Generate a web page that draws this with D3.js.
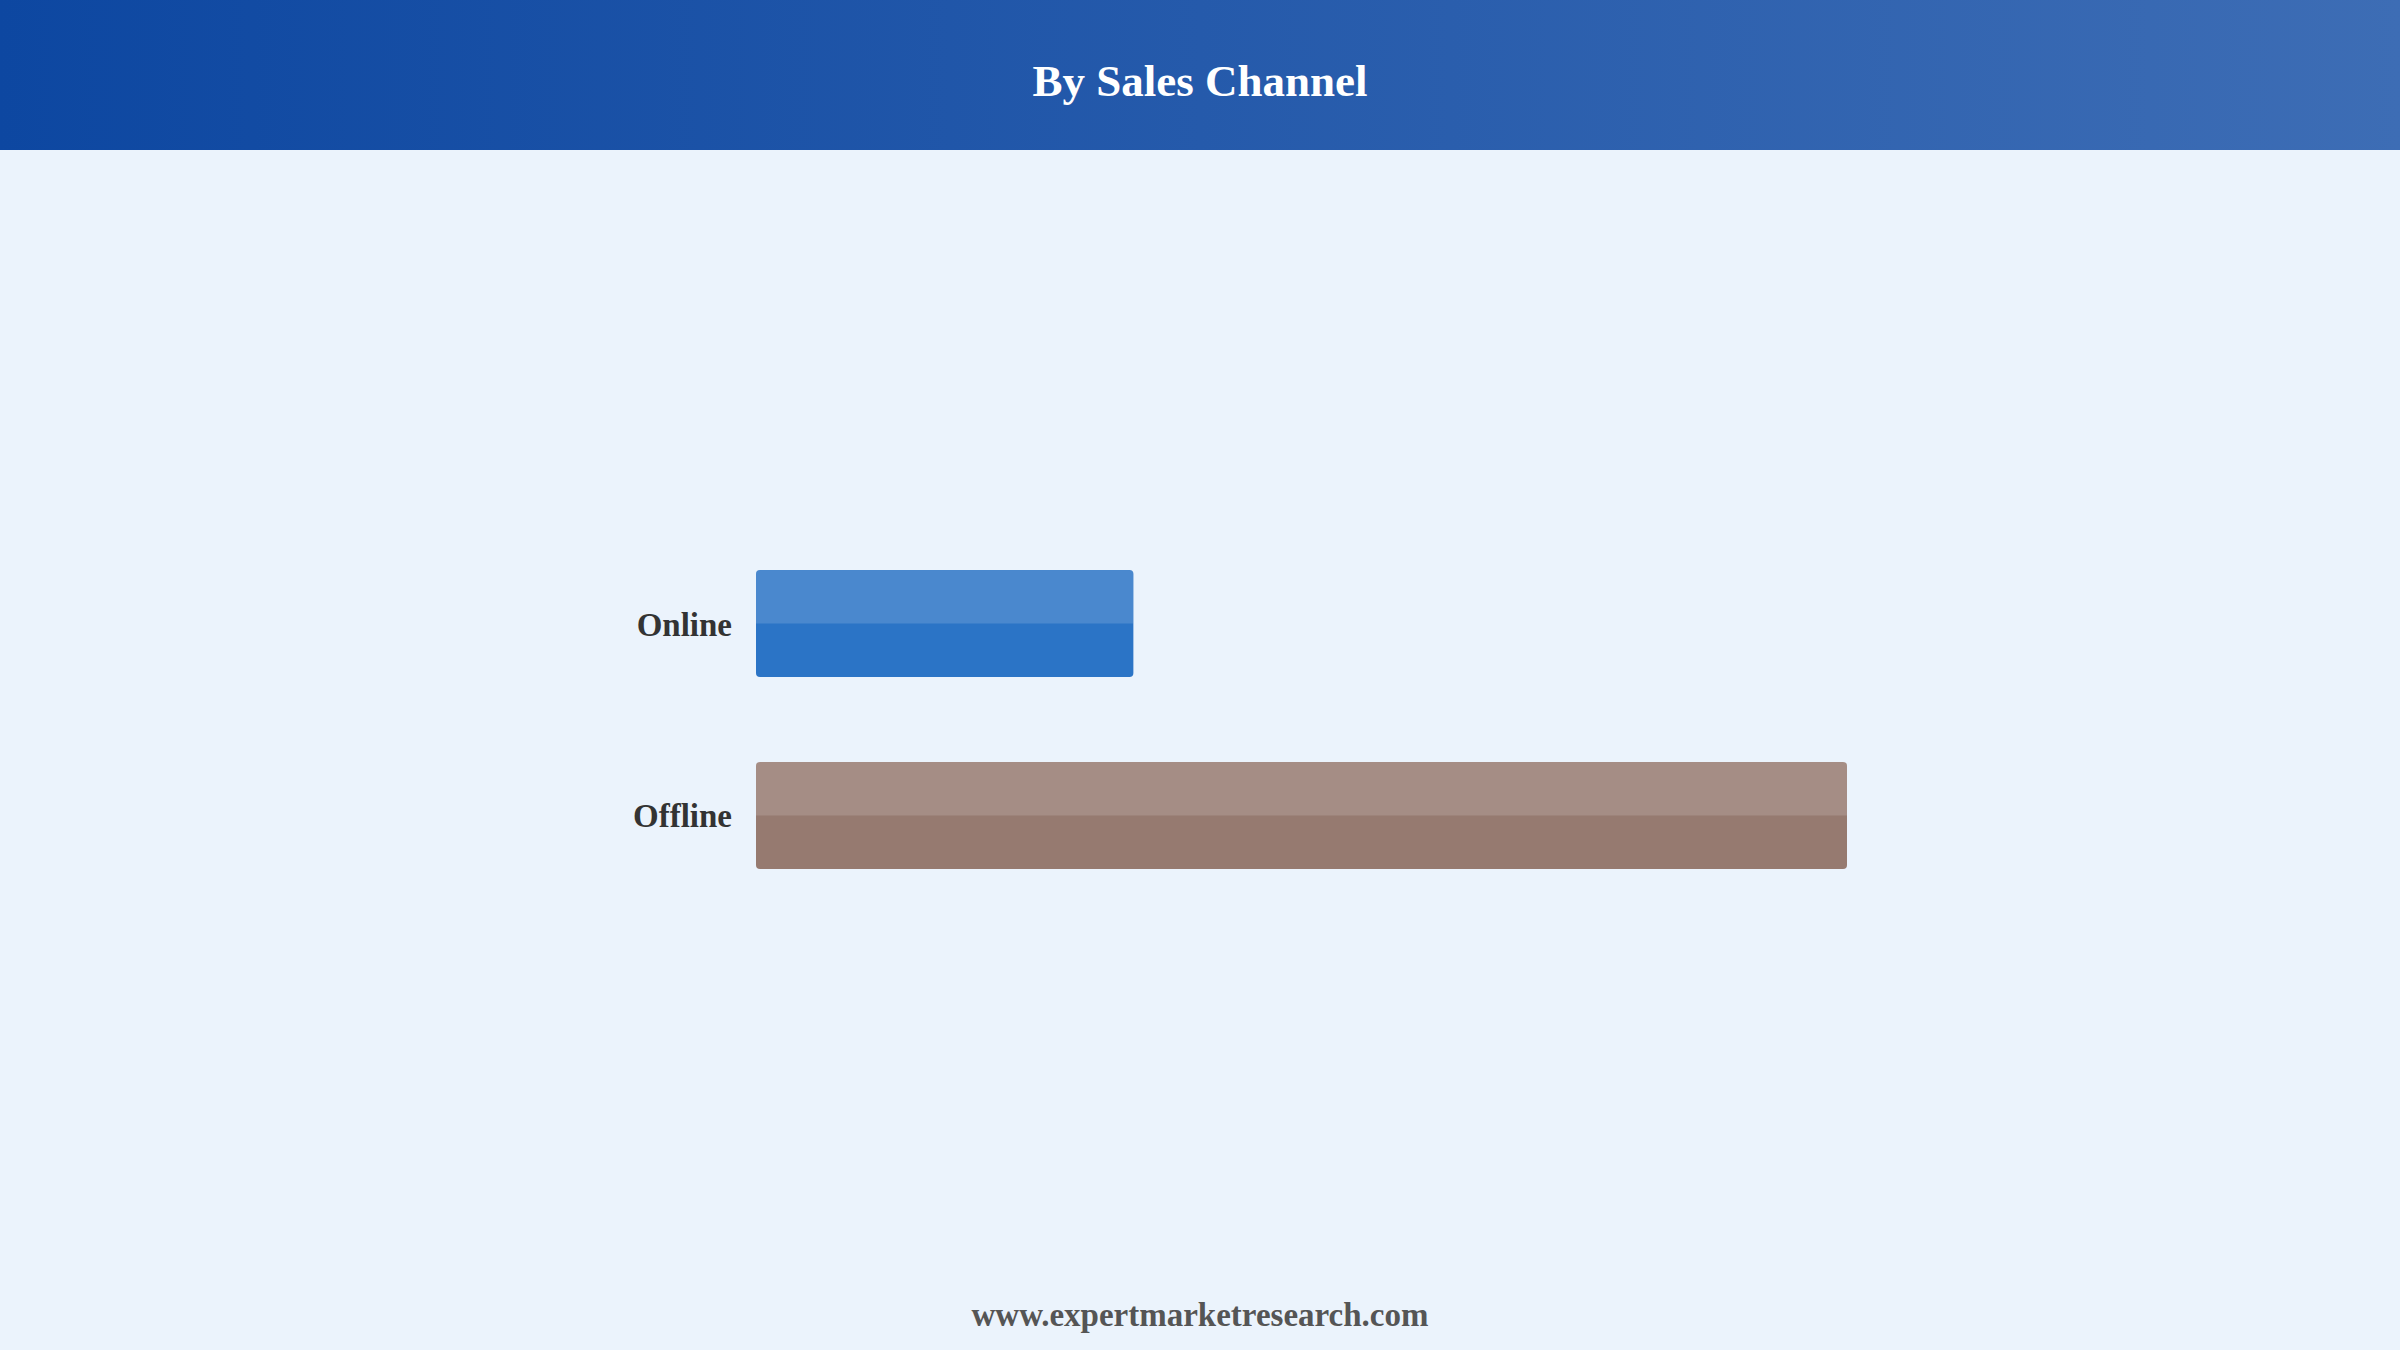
<!DOCTYPE html>
<html>
<head>
<meta charset="utf-8">
<script src="https://cdn.jsdelivr.net/npm/d3@7"></script>
<style>
  html, body { margin: 0; padding: 0; background: #EBF3FC; }
  svg { display: block; }
</style>
</head>
<body>
<svg id="chart" width="2400" height="1350"></svg>
<script>
const categories = ["Online", "Offline"];
const values = [25.7, 74.3];
const barColors = ["#2B74C6", "#967A70"];
const titleText = "By Sales Channel";
const footerText = "www.expertmarketresearch.com";

const W = 2400, H = 1350;
const svg = d3.select("#chart");
const defs = svg.append("defs");

const grad = defs.append("linearGradient").attr("id", "hdr").attr("x1", "0%").attr("x2", "100%");
grad.append("stop").attr("offset", "0%").attr("stop-color", "#0D47A1");
grad.append("stop").attr("offset", "100%").attr("stop-color", "#3D6DB5");

const clip = defs.selectAll("clipPath").data(categories).join("clipPath")
  .attr("id", (d, i) => "clip" + i);

svg.append("rect").attr("width", W).attr("height", H).attr("fill", "#EBF3FC");
svg.append("rect").attr("width", W).attr("height", 150).attr("fill", "url(#hdr)");

svg.append("text")
  .attr("x", W / 2).attr("y", 96)
  .attr("text-anchor", "middle")
  .attr("font-family", "'Liberation Serif', 'Times New Roman', serif")
  .attr("font-weight", "bold")
  .attr("font-size", 45)
  .attr("fill", "#FFFFFF")
  .text(titleText);

const x = d3.scaleLinear().domain([0, d3.max(values)]).range([756, 1847]);
const y = d3.scaleBand().domain(categories).range([527.5, 911.5]).paddingInner(0.4427).paddingOuter(0.2214);

const g = svg.append("g");
const bars = g.selectAll("g.bar").data(categories).join("g").attr("class", "bar");

clip.append("rect")
  .attr("x", x(0))
  .attr("y", d => y(d))
  .attr("width", (d, i) => x(values[i]) - x(0))
  .attr("height", y.bandwidth())
  .attr("rx", 4).attr("ry", 4);

bars.append("rect")
  .attr("x", x(0))
  .attr("y", d => y(d))
  .attr("width", (d, i) => x(values[i]) - x(0))
  .attr("height", y.bandwidth())
  .attr("rx", 4).attr("ry", 4)
  .attr("fill", (d, i) => barColors[i]);

bars.append("rect")
  .attr("clip-path", (d, i) => "url(#clip" + i + ")")
  .attr("x", x(0))
  .attr("y", d => y(d))
  .attr("width", (d, i) => x(values[i]) - x(0))
  .attr("height", y.bandwidth() / 2)
  .attr("fill", "#FFFFFF")
  .attr("fill-opacity", 0.15);

bars.append("text")
  .attr("x", x(0) - 24)
  .attr("y", d => y(d) + y.bandwidth() / 2 + 12)
  .attr("text-anchor", "end")
  .attr("font-family", "'Liberation Serif', 'Times New Roman', serif")
  .attr("font-weight", "bold")
  .attr("font-size", 33)
  .attr("fill", "#333333")
  .text(d => d);

svg.append("text")
  .attr("x", W / 2).attr("y", 1326)
  .attr("text-anchor", "middle")
  .attr("font-family", "'Liberation Serif', 'Times New Roman', serif")
  .attr("font-weight", "bold")
  .attr("font-size", 33)
  .attr("fill", "#555555")
  .text(footerText);
</script>
</body>
</html>
